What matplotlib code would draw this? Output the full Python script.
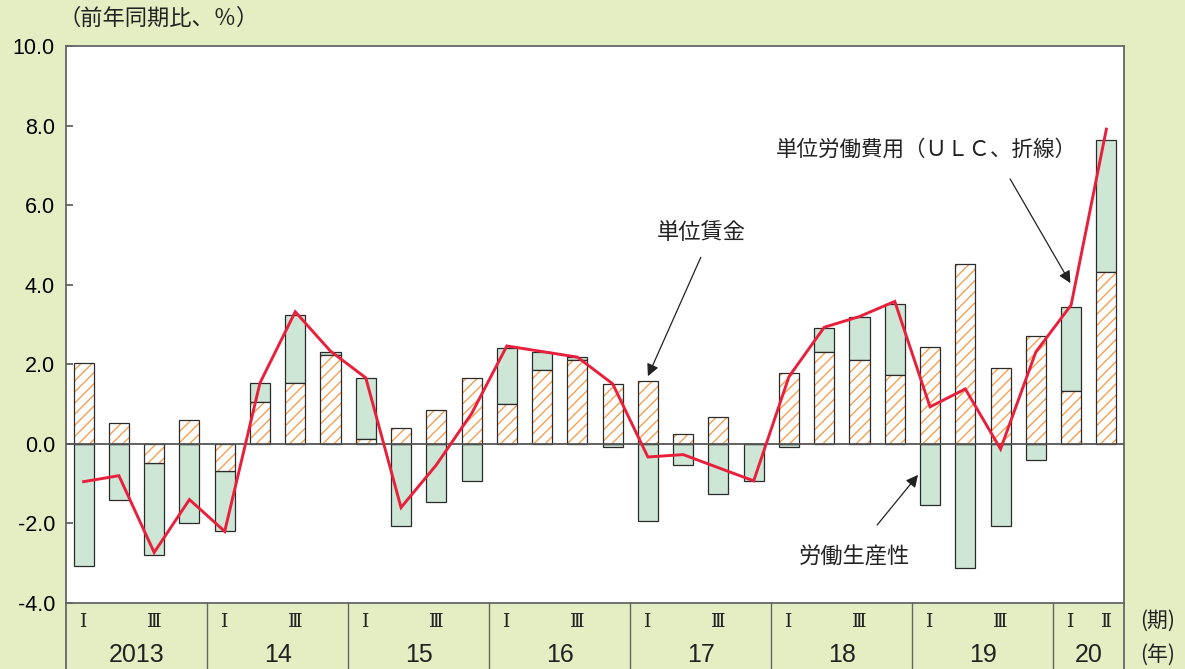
import matplotlib
matplotlib.use("Agg")
import matplotlib.pyplot as plt
import numpy as np

plt.rcParams['font.family'] = ['Noto Sans CJK JP', 'DejaVu Sans']
plt.rcParams['hatch.linewidth'] = 1.0

# Quarterly data, 2013 Q1 - 2020 Q2 (year-on-year, %)
years = ["2013", "14", "15", "16", "17", "18", "19", "20"]
quarters_per_year = [4, 4, 4, 4, 4, 4, 4, 2]

# Contribution of unit wages
unit_wage = [2.04, 0.52, -0.47, 0.60, -0.67, 1.05, 1.52, 2.24,
             0.13, 0.39, 0.86, 1.66, 0.99, 1.86, 2.12, 1.51,
             1.59, 0.26, 0.67, 0.00, 1.79, 2.32, 2.12, 1.72,
             2.44, 4.52, 1.91, 2.71, 1.32, 4.31]
# Contribution of labour productivity
productivity = [-3.07, -1.40, -2.33, -2.00, -1.53, 0.47, 1.72, 0.07,
                1.53, -2.06, -1.47, -0.94, 1.41, 0.46, 0.07, -0.07,
                -1.94, -0.53, -1.27, -0.94, -0.07, 0.60, 1.06, 1.79,
                -1.54, -3.13, -2.06, -0.41, 2.13, 3.33]
# Unit labour cost (line)
ulc = [-0.95, -0.80, -2.73, -1.40, -2.20, 1.53, 3.32, 2.33,
       1.66, -1.60, -0.53, 0.76, 2.46, 2.32, 2.18, 1.51,
       -0.33, -0.27, -0.60, -0.93, 1.69, 2.93, 3.20, 3.58,
       0.93, 1.38, -0.13, 2.31, 3.49, 7.91]

yticks = [10.0, 8.0, 6.0, 4.0, 2.0, 0.0, -2.0, -4.0]

BG = '#E5EDC3'
GREEN = '#CDE6D5'
ORANGE = '#F5A052'
RED = '#E8203C'
EDGE = '#2b2b2b'
TXT = '#222222'

fig = plt.figure(figsize=(11.85, 6.69), dpi=100, facecolor=BG)
ax = fig.add_axes([66 / 1185, 1 - 603 / 669, (1124 - 66) / 1185, (603 - 46) / 669])
ax.set_facecolor('white')

n = len(unit_wage)
x = np.arange(n)
w = np.array(unit_wage)
p = np.array(productivity)
bw = 0.57

green_bottom = np.where(w * p > 0, w, 0.0)
ax.bar(x, p, bw, bottom=green_bottom, color=GREEN, edgecolor=EDGE, linewidth=0.9, zorder=2)
ax.bar(x, w, bw, color='white', edgecolor=ORANGE, hatch='///', linewidth=0, zorder=2)
ax.bar(x, w, bw, fill=False, edgecolor=EDGE, linewidth=0.9, zorder=3)

ax.axhline(0, color='#555555', linewidth=1.3, zorder=4)
ax.plot(x, ulc, color=RED, linewidth=2.1, zorder=5, solid_joinstyle='miter')

ax.set_xlim(-0.5, n - 0.5)
ax.set_ylim(-4, 10)
ax.set_yticks(yticks)
ax.set_yticklabels([f"{v:.1f}" for v in yticks], family=['Liberation Sans'], fontsize=15.5)
ax.tick_params(axis='y', direction='in', length=5, width=1.2, color='#555555', pad=8)
ax.set_xticks([])
for s in ax.spines.values():
    s.set_color('#666666')
    s.set_linewidth(1.3)

# Period table below the axes
tr = ax.get_xaxis_transform()
bottom_frac = -(669 - 603) / 557
roman_y = -(622 - 603) / 557
year_y = -(655 - 603) / 557
ax.plot([-0.5, -0.5], [0, bottom_frac], transform=tr, color='#666666', lw=1.3, clip_on=False)
ax.plot([n - 0.5, n - 0.5], [0, bottom_frac], transform=tr, color='#666666', lw=1.3, clip_on=False)
start = 0
for yr, q in zip(years, quarters_per_year):
    end = start + q
    if end < n:
        ax.plot([end - 0.5, end - 0.5], [0, bottom_frac], transform=tr,
                color='#666666', lw=1.0, clip_on=False)
    ax.text(start, roman_y, "Ⅰ", transform=tr, ha='center', va='center', fontsize=13.5,
            family=['DejaVu Serif'], color=TXT)
    if q == 4:
        ax.text(start + 2, roman_y, "Ⅲ", transform=tr, ha='center', va='center', fontsize=13.5,
                family=['DejaVu Serif'], color=TXT)
    else:
        ax.text(start + 1, roman_y, "Ⅱ", transform=tr, ha='center', va='center', fontsize=13.5,
                family=['DejaVu Serif'], color=TXT)
    ax.text((start + end - 1) / 2, year_y, yr, transform=tr, ha='center', va='center',
            fontsize=18, family=['Liberation Sans'], color=TXT)
    start = end

fig.text(1158 / 1185, 1 - 621 / 669, "(期)", ha='center', va='center', fontsize=15, color=TXT)
fig.text(1158 / 1185, 1 - 655 / 669, "(年)", ha='center', va='center', fontsize=15, color=TXT)
fig.text(58 / 1185, 1 - 18 / 669, "（前年同期比、％）", ha='left', va='center', fontsize=16, color=TXT)

arrow = dict(arrowstyle='-|>', color=TXT, lw=0.9, mutation_scale=18, shrinkA=0, shrinkB=0)
ax.annotate("", xy=(16.0, 1.70), xytext=(17.5, 4.69), arrowprops=arrow, zorder=6)
ax.text(17.5, 5.3, "単位賃金", ha='center', va='center', fontsize=16, color=TXT)

ax.annotate("", xy=(23.66, -0.78), xytext=(22.5, -2.04), arrowprops=arrow, zorder=6)
ax.text(21.87, -2.84, "労働生産性", ha='center', va='center', fontsize=16, color=TXT)

ax.annotate("", xy=(27.98, 4.04), xytext=(26.27, 6.66), arrowprops=arrow, zorder=6)
ax.text(23.9, 7.4, "単位労働費用（ＵＬＣ、折線）", ha='center', va='center', fontsize=15.5, color=TXT)

fig.savefig("out.png", dpi=100, facecolor=BG)
